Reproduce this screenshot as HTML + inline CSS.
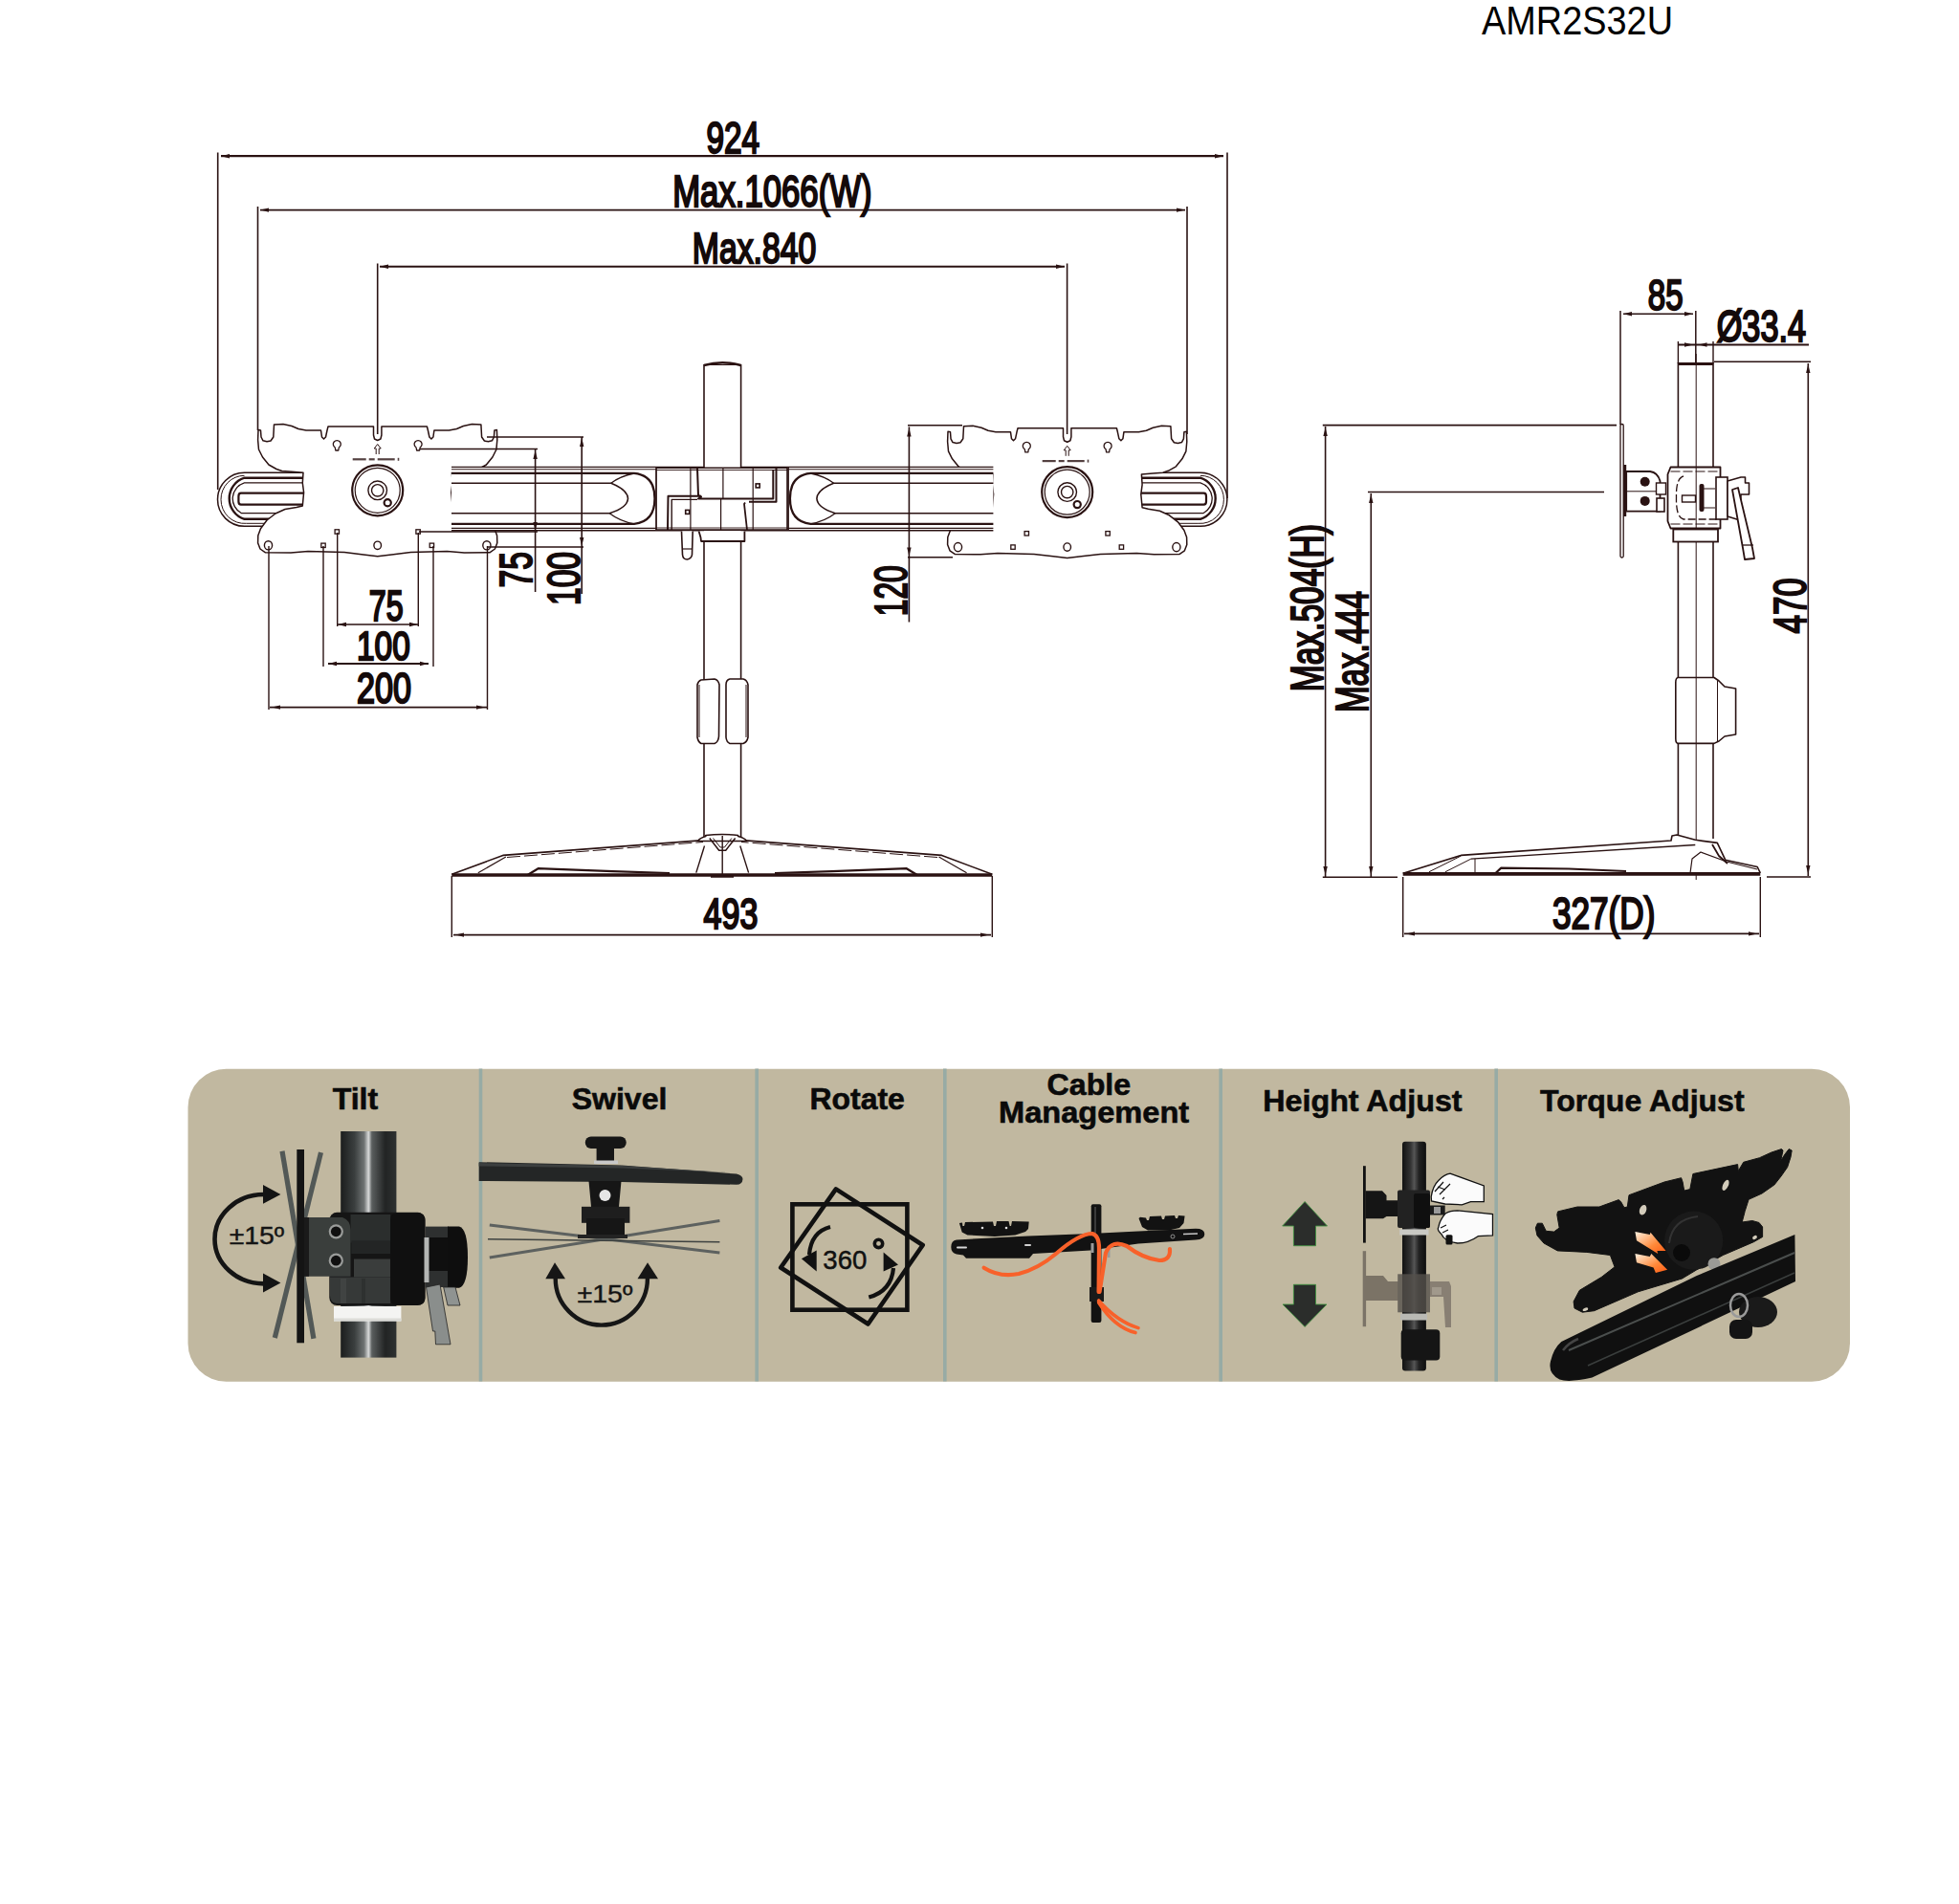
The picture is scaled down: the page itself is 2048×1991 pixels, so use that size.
<!DOCTYPE html>
<html><head><meta charset="utf-8"><title>AMR2S32U</title>
<style>html,body{margin:0;padding:0;background:#fff;overflow:hidden} svg{display:block}</style></head>
<body><svg width="2048" height="1991" viewBox="0 0 2048 1991">
<rect x="0" y="0" width="2048" height="1991" fill="#fff"/>
<defs>
<linearGradient id="gpole" x1="0" x2="1" y1="0" y2="0">
 <stop offset="0" stop-color="#1b1d1d"/><stop offset="0.25" stop-color="#3b3f3f"/><stop offset="0.42" stop-color="#6f7373"/>
 <stop offset="0.5" stop-color="#d8dada"/><stop offset="0.56" stop-color="#5a5e5e"/><stop offset="0.8" stop-color="#222424"/><stop offset="1" stop-color="#2e3131"/>
</linearGradient>
<linearGradient id="gpole2" x1="0" x2="1" y1="0" y2="0">
 <stop offset="0" stop-color="#111"/><stop offset="0.35" stop-color="#333"/><stop offset="0.5" stop-color="#555"/><stop offset="0.7" stop-color="#222"/><stop offset="1" stop-color="#0e0e0e"/>
</linearGradient>
<linearGradient id="gclamp" x1="0" x2="1" y1="0" y2="0">
 <stop offset="0" stop-color="#222"/><stop offset="0.5" stop-color="#2c2c2c"/><stop offset="1" stop-color="#101010"/>
</linearGradient>
<linearGradient id="gorange" x1="0" x2="1" y1="0" y2="1">
 <stop offset="0" stop-color="#fff1e0"/><stop offset="0.6" stop-color="#ff8a3a"/><stop offset="1" stop-color="#ff5a14"/>
</linearGradient>
</defs>
<text x="1549.0" y="36.3" font-family="Liberation Sans" font-size="42" font-weight="normal" fill="#000" textLength="200.0" lengthAdjust="spacingAndGlyphs" >AMR2S32U</text>
<g>
<path d="M318,494.29999999999995 L255.5,494.29999999999995 A28,28 0 0 0 255.5,550.3 L318,550.3" fill="#fff" stroke="#2a1212" stroke-width="1.5" stroke-linejoin="round" />
<path d="M318,499.69999999999993 L255.5,499.69999999999993 A22.6,22.6 0 0 0 255.5,542.8 L318,542.8" fill="none" stroke="#2a1212" stroke-width="2.4" stroke-linejoin="round" />
<path d="M231.0,522.3 A24.5,24.8 0 0 1 255.5,497.29999999999995" fill="none" stroke="#2a1212" stroke-width="1.0" stroke-linejoin="round" />
<path d="M231.0,522.3 A24.5,25 0 0 0 257.5,547.3 L318,547.3" fill="none" stroke="#2a1212" stroke-width="1.0" stroke-linejoin="round" />
<path d="M318,504.79999999999995 L255.5,504.79999999999995 A18,17.5 0 0 0 252.5,536.6999999999999 L318,536.6999999999999" fill="none" stroke="#2a1212" stroke-width="1.3" stroke-linejoin="round" />
<path d="M318,515.7 L252,515.7 Q249.4,515.7 249.4,519 L249.4,524.5 Q249.4,527.6 252,527.6 L318,527.6" fill="none" stroke="#2a1212" stroke-width="2.2" stroke-linejoin="round" />
</g>
<g transform="translate(1510.4,0) scale(-1,1)">
<path d="M318,494.29999999999995 L255.5,494.29999999999995 A28,28 0 0 0 255.5,550.3 L318,550.3" fill="#fff" stroke="#2a1212" stroke-width="1.5" stroke-linejoin="round" />
<path d="M318,499.69999999999993 L255.5,499.69999999999993 A22.6,22.6 0 0 0 255.5,542.8 L318,542.8" fill="none" stroke="#2a1212" stroke-width="2.4" stroke-linejoin="round" />
<path d="M231.0,522.3 A24.5,24.8 0 0 1 255.5,497.29999999999995" fill="none" stroke="#2a1212" stroke-width="1.0" stroke-linejoin="round" />
<path d="M231.0,522.3 A24.5,25 0 0 0 257.5,547.3 L318,547.3" fill="none" stroke="#2a1212" stroke-width="1.0" stroke-linejoin="round" />
<path d="M318,504.79999999999995 L255.5,504.79999999999995 A18,17.5 0 0 0 252.5,536.6999999999999 L318,536.6999999999999" fill="none" stroke="#2a1212" stroke-width="1.3" stroke-linejoin="round" />
<path d="M318,515.7 L252,515.7 Q249.4,515.7 249.4,519 L249.4,524.5 Q249.4,527.6 252,527.6 L318,527.6" fill="none" stroke="#2a1212" stroke-width="2.2" stroke-linejoin="round" />
</g>
<g>
<path d="M394.7,581.8 L380.0,580.0 L360.0,577.6 L322.0,576.6 L304.0,578.0 L277.5,577.8 L272.0,574.0 L269.6,567.8 L269.8,560.0 L272.5,552.7 L279.0,544.0 L288.0,537.0 L298.0,532.5 L310.0,530.5 L316.3,529.0 L317.6,515.0 L316.3,505.0 L317.0,494.3 L305.0,493.2 L294.7,492.5 L289.0,490.5 L281.0,486.0 L274.5,478.0 L270.5,470.0 L269.6,460.0 L270.0,449.5 L272.5,450.0 L273.0,457.0 L275.0,460.8 L279.0,461.8 L283.0,461.0 L285.8,457.0 L286.5,444.0 L296.0,443.5 L305.0,445.5 L312.0,448.5 L320.0,450.0 L335.5,450.0 L336.5,457.0 L338.5,459.0 L340.5,457.0 L342.0,450.0 L343.0,446.0 L390.5,446.0 L390.5,455.0 L391.5,459.0 L394.7,460.5 L397.9,459.0 L398.9,455.0 L398.9,446.0 L446.4,446.0 L447.4,450.0 L448.9,457.0 L450.9,459.0 L452.9,457.0 L453.9,450.0 L469.4,450.0 L477.4,448.5 L484.4,445.5 L493.4,443.5 L502.9,444.0 L503.6,457.0 L506.4,461.0 L510.4,461.8 L514.4,460.8 L516.4,457.0 L516.9,450.0 L519.4,449.5 L519.8,460.0 L518.9,470.0 L514.9,478.0 L508.4,486.0 L500.4,490.5 L494.7,492.5 L484.4,493.2 L472.4,494.3 L473.1,505.0 L471.8,515.0 L473.1,529.0 L479.4,530.5 L491.4,532.5 L501.4,537.0 L510.4,544.0 L516.9,552.7 L519.6,560.0 L519.8,567.8 L517.4,574.0 L511.9,577.8 L485.4,578.0 L467.4,576.6 L429.4,577.6 L409.4,580.0 L394.7,581.8 Z" fill="#fff" stroke="#2a1212" stroke-width="1.5" stroke-linejoin="round" />
<circle cx="394.7" cy="512.8" r="26.5" fill="none" stroke="#2a1212" stroke-width="2.2"/>
<circle cx="394.7" cy="512.8" r="23.5" fill="none" stroke="#2a1212" stroke-width="1.2"/>
<circle cx="394.7" cy="512.8" r="9.8" fill="none" stroke="#2a1212" stroke-width="1.4"/>
<circle cx="394.7" cy="512.8" r="6.2" fill="none" stroke="#2a1212" stroke-width="1.4"/>
<path d="M393.2,475.0 L393.2,469.0 L391.2,469.0 L394.7,464.5 L398.2,469.0 L396.2,469.0 L396.2,475.0" fill="none" stroke="#2a1212" stroke-width="1.0" stroke-linejoin="round" />
<path d="M350.8,471 L350.3,468 A4,4 0 1 1 354.3,468 L353.8,471 Z" fill="none" stroke="#2a1212" stroke-width="1.3" stroke-linejoin="round" />
<path d="M435.6,471 L435.1,468 A4,4 0 1 1 439.1,468 L438.6,471 Z" fill="none" stroke="#2a1212" stroke-width="1.3" stroke-linejoin="round" />
<ellipse cx="280.5" cy="570.3" rx="4.1" ry="4.6" fill="none" stroke="#2a1212" stroke-width="1.4"/>
<ellipse cx="508.9" cy="570.3" rx="4.1" ry="4.6" fill="none" stroke="#2a1212" stroke-width="1.4"/>
<ellipse cx="394.7" cy="570.3" rx="3.8" ry="4.2" fill="none" stroke="#2a1212" stroke-width="1.4"/>
<rect x="335.8" y="568.0999999999999" width="4.4" height="4.4" fill="none" stroke="#2a1212" stroke-width="1.3"/>
<rect x="449.2" y="568.0999999999999" width="4.4" height="4.4" fill="none" stroke="#2a1212" stroke-width="1.3"/>
<rect x="350.1" y="553.8" width="4.4" height="4.4" fill="none" stroke="#2a1212" stroke-width="1.3"/>
<rect x="434.90000000000003" y="553.8" width="4.4" height="4.4" fill="none" stroke="#2a1212" stroke-width="1.3"/>
</g>
<circle cx="405.2" cy="525.8" r="3.6" fill="none" stroke="#2a1212" stroke-width="2.2"/>
<g opacity="0.8"><rect x="368.7" y="479.2" width="14" height="2.2" fill="#2a1212"/>
<rect x="385.7" y="479.2" width="6" height="2.2" fill="#2a1212"/>
<rect x="394.7" y="479.2" width="18" height="2.2" fill="#2a1212"/>
<rect x="415.7" y="478.8" width="1.6" height="3" fill="#2a1212"/></g>
<g transform="translate(1510.4,1.8) scale(-1,1)">
<path d="M394.7,581.8 L380.0,580.0 L360.0,577.6 L322.0,576.6 L304.0,578.0 L277.5,577.8 L272.0,574.0 L269.6,567.8 L269.8,560.0 L272.5,552.7 L279.0,544.0 L288.0,537.0 L298.0,532.5 L310.0,530.5 L316.3,529.0 L317.6,515.0 L316.3,505.0 L317.0,494.3 L305.0,493.2 L294.7,492.5 L289.0,490.5 L281.0,486.0 L274.5,478.0 L270.5,470.0 L269.6,460.0 L270.0,449.5 L272.5,450.0 L273.0,457.0 L275.0,460.8 L279.0,461.8 L283.0,461.0 L285.8,457.0 L286.5,444.0 L296.0,443.5 L305.0,445.5 L312.0,448.5 L320.0,450.0 L335.5,450.0 L336.5,457.0 L338.5,459.0 L340.5,457.0 L342.0,450.0 L343.0,446.0 L390.5,446.0 L390.5,455.0 L391.5,459.0 L394.7,460.5 L397.9,459.0 L398.9,455.0 L398.9,446.0 L446.4,446.0 L447.4,450.0 L448.9,457.0 L450.9,459.0 L452.9,457.0 L453.9,450.0 L469.4,450.0 L477.4,448.5 L484.4,445.5 L493.4,443.5 L502.9,444.0 L503.6,457.0 L506.4,461.0 L510.4,461.8 L514.4,460.8 L516.4,457.0 L516.9,450.0 L519.4,449.5 L519.8,460.0 L518.9,470.0 L514.9,478.0 L508.4,486.0 L500.4,490.5 L494.7,492.5 L484.4,493.2 L472.4,494.3 L473.1,505.0 L471.8,515.0 L473.1,529.0 L479.4,530.5 L491.4,532.5 L501.4,537.0 L510.4,544.0 L516.9,552.7 L519.6,560.0 L519.8,567.8 L517.4,574.0 L511.9,577.8 L485.4,578.0 L467.4,576.6 L429.4,577.6 L409.4,580.0 L394.7,581.8 Z" fill="#fff" stroke="#2a1212" stroke-width="1.5" stroke-linejoin="round" />
<circle cx="394.7" cy="512.8" r="26.5" fill="none" stroke="#2a1212" stroke-width="2.2"/>
<circle cx="394.7" cy="512.8" r="23.5" fill="none" stroke="#2a1212" stroke-width="1.2"/>
<circle cx="394.7" cy="512.8" r="9.8" fill="none" stroke="#2a1212" stroke-width="1.4"/>
<circle cx="394.7" cy="512.8" r="6.2" fill="none" stroke="#2a1212" stroke-width="1.4"/>
<path d="M393.2,475.0 L393.2,469.0 L391.2,469.0 L394.7,464.5 L398.2,469.0 L396.2,469.0 L396.2,475.0" fill="none" stroke="#2a1212" stroke-width="1.0" stroke-linejoin="round" />
<path d="M350.8,471 L350.3,468 A4,4 0 1 1 354.3,468 L353.8,471 Z" fill="none" stroke="#2a1212" stroke-width="1.3" stroke-linejoin="round" />
<path d="M435.6,471 L435.1,468 A4,4 0 1 1 439.1,468 L438.6,471 Z" fill="none" stroke="#2a1212" stroke-width="1.3" stroke-linejoin="round" />
<ellipse cx="280.5" cy="570.3" rx="4.1" ry="4.6" fill="none" stroke="#2a1212" stroke-width="1.4"/>
<ellipse cx="508.9" cy="570.3" rx="4.1" ry="4.6" fill="none" stroke="#2a1212" stroke-width="1.4"/>
<ellipse cx="394.7" cy="570.3" rx="3.8" ry="4.2" fill="none" stroke="#2a1212" stroke-width="1.4"/>
<rect x="335.8" y="568.0999999999999" width="4.4" height="4.4" fill="none" stroke="#2a1212" stroke-width="1.3"/>
<rect x="449.2" y="568.0999999999999" width="4.4" height="4.4" fill="none" stroke="#2a1212" stroke-width="1.3"/>
<rect x="350.1" y="553.8" width="4.4" height="4.4" fill="none" stroke="#2a1212" stroke-width="1.3"/>
<rect x="434.90000000000003" y="553.8" width="4.4" height="4.4" fill="none" stroke="#2a1212" stroke-width="1.3"/>
</g>
<circle cx="1126.2" cy="527.6" r="3.6" fill="none" stroke="#2a1212" stroke-width="2.2"/>
<g opacity="0.8"><rect x="1089.7" y="481.0" width="14" height="2.2" fill="#2a1212"/>
<rect x="1106.7" y="481.0" width="6" height="2.2" fill="#2a1212"/>
<rect x="1115.7" y="481.0" width="18" height="2.2" fill="#2a1212"/>
<rect x="1136.7" y="480.6" width="1.6" height="3" fill="#2a1212"/></g>
<g>
<rect x="472" y="488.4" width="214" height="66.3" fill="#fff" stroke="none"/>
<line x1="472.0" y1="488.4" x2="736.0" y2="488.4" stroke="#2a1212" stroke-width="1.3"/>
<line x1="472.0" y1="490.7" x2="736.0" y2="490.7" stroke="#2a1212" stroke-width="1.1"/>
<line x1="472.0" y1="552.4" x2="736.0" y2="552.4" stroke="#2a1212" stroke-width="1.1"/>
<line x1="472.0" y1="554.7" x2="736.0" y2="554.7" stroke="#2a1212" stroke-width="1.5"/>
<line x1="686.3" y1="488.4" x2="686.3" y2="554.7" stroke="#2a1212" stroke-width="1.6"/>
<path d="M472,494.9 L663,494.9 Q684.5,497 684.5,521.3 Q684.5,545.5 663,547.9 L472,547.9" fill="none" stroke="#2a1212" stroke-width="2.3" stroke-linejoin="round" />
<path d="M472,505.3 L638.8,505.3 Q656,512 656.5,521.3 Q656,531 637.2,536.7 L472,536.7" fill="none" stroke="#2a1212" stroke-width="1.6" stroke-linejoin="round" />
<path d="M638.8,505.3 Q648,498 663,495" fill="none" stroke="#2a1212" stroke-width="1.3" stroke-linejoin="round" />
<path d="M637.2,536.7 Q648,545 663,547.8" fill="none" stroke="#2a1212" stroke-width="1.3" stroke-linejoin="round" />
</g>
<g transform="translate(1510.4,0) scale(-1,1)">
<rect x="472" y="488.4" width="214" height="66.3" fill="#fff" stroke="none"/>
<line x1="472.0" y1="488.4" x2="736.0" y2="488.4" stroke="#2a1212" stroke-width="1.3"/>
<line x1="472.0" y1="490.7" x2="736.0" y2="490.7" stroke="#2a1212" stroke-width="1.1"/>
<line x1="472.0" y1="552.4" x2="736.0" y2="552.4" stroke="#2a1212" stroke-width="1.1"/>
<line x1="472.0" y1="554.7" x2="736.0" y2="554.7" stroke="#2a1212" stroke-width="1.5"/>
<line x1="686.3" y1="488.4" x2="686.3" y2="554.7" stroke="#2a1212" stroke-width="1.6"/>
<path d="M472,494.9 L663,494.9 Q684.5,497 684.5,521.3 Q684.5,545.5 663,547.9 L472,547.9" fill="none" stroke="#2a1212" stroke-width="2.3" stroke-linejoin="round" />
<path d="M472,505.3 L638.8,505.3 Q656,512 656.5,521.3 Q656,531 637.2,536.7 L472,536.7" fill="none" stroke="#2a1212" stroke-width="1.6" stroke-linejoin="round" />
<path d="M638.8,505.3 Q648,498 663,495" fill="none" stroke="#2a1212" stroke-width="1.3" stroke-linejoin="round" />
<path d="M637.2,536.7 Q648,545 663,547.8" fill="none" stroke="#2a1212" stroke-width="1.3" stroke-linejoin="round" />
</g>
<rect x="736" y="379.5" width="38.6" height="110" fill="#fff" stroke="none"/>
<line x1="736.0" y1="381.0" x2="736.0" y2="489.3" stroke="#2a1212" stroke-width="1.6"/>
<line x1="774.6" y1="381.0" x2="774.6" y2="489.3" stroke="#2a1212" stroke-width="1.6"/>
<path d="M736,382 Q755.3,376.5 774.6,382" fill="none" stroke="#2a1212" stroke-width="2.4" stroke-linejoin="round" />
<line x1="736.0" y1="381.5" x2="774.6" y2="381.5" stroke="#2a1212" stroke-width="1.2"/>
<line x1="736.0" y1="566.0" x2="736.0" y2="876.0" stroke="#2a1212" stroke-width="1.6"/>
<line x1="774.6" y1="566.0" x2="774.6" y2="876.0" stroke="#2a1212" stroke-width="1.6"/>
<path d="M733,711 Q730,712 729,716 L729,771 Q730,776 733,777.5 L747,777.5 Q751,776 751.5,770 L752,716 Q751,711 747,710 Z" fill="#fff" stroke="#2a1212" stroke-width="1.6" stroke-linejoin="round" />
<path d="M763,710 Q759,711 759,716 L759,771 Q759.5,776 763,777.5 L777,777.5 Q781,776 782,771 L782,716 Q781,711 777,710 Z" fill="#fff" stroke="#2a1212" stroke-width="1.6" stroke-linejoin="round" />
<line x1="731.0" y1="716.0" x2="731.0" y2="771.0" stroke="#2a1212" stroke-width="1.0"/>
<line x1="780.0" y1="716.0" x2="780.0" y2="771.0" stroke="#2a1212" stroke-width="1.0"/>
<rect x="686" y="489.3" width="137" height="64.8" fill="#fff"/>
<line x1="686.0" y1="489.3" x2="823.0" y2="489.3" stroke="#2a1212" stroke-width="1.6"/>
<line x1="686.0" y1="554.1" x2="823.0" y2="554.1" stroke="#2a1212" stroke-width="1.8"/>
<line x1="686.0" y1="491.5" x2="823.0" y2="491.5" stroke="#2a1212" stroke-width="0.9"/>
<line x1="686.0" y1="552.0" x2="823.0" y2="552.0" stroke="#2a1212" stroke-width="0.9"/>
<line x1="686.1" y1="489.3" x2="686.1" y2="554.1" stroke="#2a1212" stroke-width="1.6"/>
<line x1="823.0" y1="489.3" x2="823.0" y2="554.1" stroke="#2a1212" stroke-width="1.6"/>
<line x1="721.9" y1="489.3" x2="721.9" y2="554.1" stroke="#2a1212" stroke-width="1.2"/>
<line x1="755.9" y1="489.3" x2="755.9" y2="521.5" stroke="#2a1212" stroke-width="1.2"/>
<line x1="753.6" y1="522.0" x2="753.6" y2="554.1" stroke="#2a1212" stroke-width="1.2"/>
<line x1="787.2" y1="489.3" x2="787.2" y2="554.1" stroke="#2a1212" stroke-width="1.2"/>
<path d="M723.0,489.3 L729.0,489.3 L730.0,518.0 L733.0,519.5 L730.0,521.5 L808.3,521.5 L808.3,491.0" fill="none" stroke="#2a1212" stroke-width="2.0" stroke-linejoin="round" />
<path d="M811.5,489.3 L811.5,524.7 L783.0,524.7" fill="none" stroke="#2a1212" stroke-width="2.0" stroke-linejoin="round" />
<path d="M698.0,554.1 L698.5,518.7 L733.0,518.7" fill="none" stroke="#2a1212" stroke-width="2.0" stroke-linejoin="round" />
<path d="M702.2,554.1 L702.2,522.4 L729.0,522.4" fill="none" stroke="#2a1212" stroke-width="1.4" stroke-linejoin="round" />
<path d="M779.0,525.5 L778.0,527.0 L779.0,536.0 L781.0,554.0" fill="none" stroke="#2a1212" stroke-width="1.8" stroke-linejoin="round" />
<rect x="716.7" y="533.4" width="4" height="4" fill="none" stroke="#2a1212" stroke-width="1.6"/>
<rect x="790.2" y="505.9" width="4" height="4" fill="none" stroke="#2a1212" stroke-width="1.6"/>
<path d="M730.6,555.5 L732.5,562.0 L733.0,566.0 L778.4,566.0 L778.4,555.5" fill="#fff" stroke="#2a1212" stroke-width="1.8" stroke-linejoin="round" />
<path d="M712.5,555.5 L713.5,580 Q714,585 718.3,585 Q723,584 723.5,580 L724.2,555.5" fill="#fff" stroke="#2a1212" stroke-width="1.6" stroke-linejoin="round" />
<line x1="713.0" y1="574.0" x2="724.0" y2="574.0" stroke="#2a1212" stroke-width="1.2"/>
<path d="M472.3,914.3 L525.8,894.4 L735.6,878.6 L736.0,876.0 L774.6,876.0 L775.5,878.6 L984.6,894.4 L1037.3,914.3" fill="#fff" stroke="#2a1212" stroke-width="1.6" stroke-linejoin="round" />
<line x1="472.3" y1="915.0" x2="1037.3" y2="915.0" stroke="#2a1212" stroke-width="3.6"/>
<path d="M499.8,912.8 L528.9,895.9" fill="none" stroke="#2a1212" stroke-width="1.2" stroke-linejoin="round" />
<path d="M1010.6,912.8 L981.5,895.9" fill="none" stroke="#2a1212" stroke-width="1.2" stroke-linejoin="round" />
<path d="M530.0,896.5 L735.0,880.5" fill="none" stroke="#2a1212" stroke-width="1.0" stroke-linejoin="round" stroke-dasharray="14,4"/>
<path d="M980.0,896.5 L775.0,880.5" fill="none" stroke="#2a1212" stroke-width="1.0" stroke-linejoin="round" stroke-dasharray="14,4"/>
<path d="M551.9,914.8 L562.6,908.2 L640.7,911.2 L700.0,913.0" fill="none" stroke="#2a1212" stroke-width="2.2" stroke-linejoin="round" />
<path d="M958.5,914.8 L947.8,908.2 L869.7,911.2 L810.0,913.0" fill="none" stroke="#2a1212" stroke-width="2.2" stroke-linejoin="round" />
<path d="M729.8,879.5 Q731,876.5 737.8,874.5 L737.8,873.5 Q755,871.5 771.6,873.5 L771.6,874.5 Q779,876.5 780.5,879.5 Z" fill="#fff" stroke="#2a1212" stroke-width="1.6" stroke-linejoin="round" />
<path d="M727.8,912.6 L736.5,884.5" fill="none" stroke="#2a1212" stroke-width="1.4" stroke-linejoin="round" />
<path d="M782.6,912.6 L773.8,884.5" fill="none" stroke="#2a1212" stroke-width="1.4" stroke-linejoin="round" />
<path d="M741.8,876.5 L751.7,889.2 L758.7,889.2 L768.6,876.5" fill="none" stroke="#2a1212" stroke-width="1.5" stroke-linejoin="round" />
<path d="M745.5,876.5 L753.0,886.0 L757.4,886.0 L764.9,876.5" fill="none" stroke="#2a1212" stroke-width="1.0" stroke-linejoin="round" />
<line x1="755.2" y1="874.0" x2="755.2" y2="914.0" stroke="#2a1212" stroke-width="1.4"/>
<path d="M743,916.5 L767,916.5" fill="none" stroke="#2a1212" stroke-width="2.5" stroke-linejoin="round" />
<line x1="227.7" y1="159.5" x2="227.7" y2="512.0" stroke="#2a1212" stroke-width="1.6"/>
<line x1="1283.0" y1="159.5" x2="1283.0" y2="521.0" stroke="#2a1212" stroke-width="1.6"/>
<line x1="231.0" y1="163.2" x2="1279.0" y2="163.2" stroke="#2a1212" stroke-width="2.2"/>
<path d="M231.0,163.2 L240.0,161.0 L240.0,165.4 Z" fill="#2a1212"/>
<path d="M1279.0,163.2 L1270.0,161.0 L1270.0,165.4 Z" fill="#2a1212"/>
<text x="738.4" y="160.0" font-family="Liberation Sans" font-size="45.4" font-weight="normal" fill="#140a0a" textLength="55.7" lengthAdjust="spacingAndGlyphs" stroke="#140a0a" stroke-width="2.3">924</text>
<line x1="269.5" y1="216.0" x2="269.5" y2="450.0" stroke="#2a1212" stroke-width="1.6"/>
<line x1="1241.0" y1="216.0" x2="1241.0" y2="454.0" stroke="#2a1212" stroke-width="1.6"/>
<line x1="272.0" y1="219.6" x2="1239.0" y2="219.6" stroke="#2a1212" stroke-width="1.6"/>
<path d="M272.0,219.6 L281.0,217.4 L281.0,221.8 Z" fill="#2a1212"/>
<path d="M1239.0,219.6 L1230.0,217.4 L1230.0,221.8 Z" fill="#2a1212"/>
<text x="703.2" y="216.2" font-family="Liberation Sans" font-size="45.4" font-weight="normal" fill="#140a0a" textLength="208.4" lengthAdjust="spacingAndGlyphs" stroke="#140a0a" stroke-width="2.3">Max.1066(W)</text>
<line x1="394.7" y1="275.5" x2="394.7" y2="454.0" stroke="#2a1212" stroke-width="1.6"/>
<line x1="1115.6" y1="275.5" x2="1115.6" y2="454.0" stroke="#2a1212" stroke-width="1.6"/>
<line x1="397.0" y1="278.7" x2="1113.0" y2="278.7" stroke="#2a1212" stroke-width="2.0"/>
<path d="M397.0,278.7 L406.0,276.5 L406.0,280.9 Z" fill="#2a1212"/>
<path d="M1113.0,278.7 L1104.0,276.5 L1104.0,280.9 Z" fill="#2a1212"/>
<text x="723.8" y="275.2" font-family="Liberation Sans" font-size="44.4" font-weight="normal" fill="#140a0a" textLength="129.4" lengthAdjust="spacingAndGlyphs" stroke="#140a0a" stroke-width="2.3">Max.840</text>
<line x1="352.7" y1="557.0" x2="352.7" y2="655.0" stroke="#2a1212" stroke-width="1.4"/>
<line x1="437.3" y1="557.0" x2="437.3" y2="655.0" stroke="#2a1212" stroke-width="1.4"/>
<line x1="353.0" y1="653.0" x2="437.0" y2="653.0" stroke="#2a1212" stroke-width="1.6"/>
<path d="M353.0,653.0 L362.0,650.8 L362.0,655.2 Z" fill="#2a1212"/>
<path d="M437.0,653.0 L428.0,650.8 L428.0,655.2 Z" fill="#2a1212"/>
<text x="385.8" y="648.7" font-family="Liberation Sans" font-size="43.9" font-weight="normal" fill="#140a0a" textLength="35.8" lengthAdjust="spacingAndGlyphs" stroke="#140a0a" stroke-width="2.3">75</text>
<line x1="338.0" y1="571.0" x2="338.0" y2="697.0" stroke="#2a1212" stroke-width="1.4"/>
<line x1="453.0" y1="571.0" x2="453.0" y2="697.0" stroke="#2a1212" stroke-width="1.4"/>
<line x1="343.0" y1="694.0" x2="448.0" y2="694.0" stroke="#2a1212" stroke-width="1.8"/>
<path d="M343.0,694.0 L352.0,691.8 L352.0,696.2 Z" fill="#2a1212"/>
<path d="M448.0,694.0 L439.0,691.8 L439.0,696.2 Z" fill="#2a1212"/>
<text x="373.0" y="690.2" font-family="Liberation Sans" font-size="42.7" font-weight="normal" fill="#140a0a" textLength="55.7" lengthAdjust="spacingAndGlyphs" stroke="#140a0a" stroke-width="2.3">100</text>
<line x1="281.0" y1="571.0" x2="281.0" y2="742.0" stroke="#2a1212" stroke-width="1.4"/>
<line x1="509.5" y1="571.0" x2="509.5" y2="742.0" stroke="#2a1212" stroke-width="1.4"/>
<line x1="282.0" y1="739.6" x2="509.0" y2="739.6" stroke="#2a1212" stroke-width="1.6"/>
<path d="M284.0,739.6 L293.0,737.4 L293.0,741.8 Z" fill="#2a1212"/>
<path d="M507.0,739.6 L498.0,737.4 L498.0,741.8 Z" fill="#2a1212"/>
<text x="373.0" y="734.5" font-family="Liberation Sans" font-size="44.0" font-weight="normal" fill="#140a0a" textLength="57.0" lengthAdjust="spacingAndGlyphs" stroke="#140a0a" stroke-width="2.3">200</text>
<line x1="439.0" y1="469.5" x2="562.0" y2="469.5" stroke="#2a1212" stroke-width="1.4"/>
<line x1="438.0" y1="556.0" x2="562.0" y2="556.0" stroke="#2a1212" stroke-width="1.4"/>
<line x1="559.6" y1="470.0" x2="559.6" y2="619.0" stroke="#2a1212" stroke-width="1.6"/>
<path d="M559.6,471.0 L557.4,480.0 L561.8,480.0 Z" fill="#2a1212"/>
<path d="M559.6,555.0 L557.4,546.0 L561.8,546.0 Z" fill="#2a1212"/>
<g transform="translate(556.0,614.4) rotate(-90)"><text x="0" y="0" font-family="Liberation Sans" font-size="48.0" font-weight="normal" fill="#140a0a" stroke="#140a0a" stroke-width="2.3" textLength="37.4" lengthAdjust="spacingAndGlyphs">75</text></g>
<line x1="509.0" y1="457.0" x2="610.0" y2="457.0" stroke="#2a1212" stroke-width="1.4"/>
<line x1="509.0" y1="572.0" x2="610.0" y2="572.0" stroke="#2a1212" stroke-width="1.4"/>
<line x1="608.2" y1="457.0" x2="608.2" y2="621.0" stroke="#2a1212" stroke-width="1.6"/>
<path d="M608.2,458.0 L606.0,467.0 L610.4,467.0 Z" fill="#2a1212"/>
<path d="M608.2,571.0 L606.0,562.0 L610.4,562.0 Z" fill="#2a1212"/>
<g transform="translate(606.0,633.0) rotate(-90)"><text x="0" y="0" font-family="Liberation Sans" font-size="48.0" font-weight="normal" fill="#140a0a" stroke="#140a0a" stroke-width="2.3" textLength="56.0" lengthAdjust="spacingAndGlyphs">100</text></g>
<line x1="949.0" y1="444.8" x2="1006.0" y2="444.8" stroke="#2a1212" stroke-width="1.4"/>
<line x1="949.0" y1="582.7" x2="996.0" y2="582.7" stroke="#2a1212" stroke-width="1.4"/>
<line x1="950.4" y1="446.4" x2="950.4" y2="650.5" stroke="#2a1212" stroke-width="1.6"/>
<path d="M950.4,447.5 L948.2,456.5 L952.6,456.5 Z" fill="#2a1212"/>
<path d="M950.4,581.5 L948.2,572.5 L952.6,572.5 Z" fill="#2a1212"/>
<g transform="translate(947.9,644.2) rotate(-90)"><text x="0" y="0" font-family="Liberation Sans" font-size="47.3" font-weight="normal" fill="#140a0a" stroke="#140a0a" stroke-width="2.3" textLength="52.9" lengthAdjust="spacingAndGlyphs">120</text></g>
<line x1="472.3" y1="916.0" x2="472.3" y2="980.0" stroke="#2a1212" stroke-width="1.4"/>
<line x1="1037.3" y1="916.0" x2="1037.3" y2="980.0" stroke="#2a1212" stroke-width="1.4"/>
<line x1="474.0" y1="977.6" x2="1036.0" y2="977.6" stroke="#2a1212" stroke-width="1.8"/>
<path d="M476.0,977.6 L485.0,975.4 L485.0,979.8 Z" fill="#2a1212"/>
<path d="M1034.0,977.6 L1025.0,975.4 L1025.0,979.8 Z" fill="#2a1212"/>
<text x="735.6" y="971.0" font-family="Liberation Sans" font-size="43.7" font-weight="normal" fill="#140a0a" textLength="56.7" lengthAdjust="spacingAndGlyphs" stroke="#140a0a" stroke-width="2.3">493</text>
<line x1="1694.0" y1="325.0" x2="1694.0" y2="444.0" stroke="#2a1212" stroke-width="1.5"/>
<line x1="1772.8" y1="325.0" x2="1772.8" y2="379.0" stroke="#2a1212" stroke-width="1.5"/>
<line x1="1697.0" y1="328.2" x2="1770.0" y2="328.2" stroke="#2a1212" stroke-width="1.6"/>
<path d="M1697.0,328.2 L1706.0,326.0 L1706.0,330.4 Z" fill="#2a1212"/>
<path d="M1770.0,328.2 L1761.0,326.0 L1761.0,330.4 Z" fill="#2a1212"/>
<text x="1722.8" y="323.6" font-family="Liberation Sans" font-size="45.0" font-weight="normal" fill="#140a0a" textLength="36.7" lengthAdjust="spacingAndGlyphs" stroke="#140a0a" stroke-width="2.3">85</text>
<line x1="1754.4" y1="357.0" x2="1754.4" y2="380.0" stroke="#2a1212" stroke-width="1.4"/>
<line x1="1791.0" y1="357.0" x2="1791.0" y2="380.0" stroke="#2a1212" stroke-width="1.4"/>
<line x1="1755.0" y1="360.5" x2="1891.0" y2="360.5" stroke="#2a1212" stroke-width="2.0"/>
<path d="M1770.0,360.5 L1761.0,358.3 L1761.0,362.7 Z" fill="#2a1212"/>
<path d="M1775.5,360.5 L1784.5,358.3 L1784.5,362.7 Z" fill="#2a1212"/>
<text x="1794.7" y="356.5" font-family="Liberation Sans" font-size="45.9" font-weight="normal" fill="#140a0a" textLength="93.3" lengthAdjust="spacingAndGlyphs" stroke="#140a0a" stroke-width="2.3">Ø33.4</text>
<line x1="1792.0" y1="378.3" x2="1893.0" y2="378.3" stroke="#2a1212" stroke-width="1.5"/>
<line x1="1847.0" y1="917.0" x2="1893.0" y2="917.0" stroke="#2a1212" stroke-width="1.5"/>
<line x1="1890.3" y1="380.0" x2="1890.3" y2="916.0" stroke="#2a1212" stroke-width="1.6"/>
<path d="M1890.3,381.0 L1888.1,390.0 L1892.5,390.0 Z" fill="#2a1212"/>
<path d="M1890.3,914.0 L1888.1,905.0 L1892.5,905.0 Z" fill="#2a1212"/>
<g transform="translate(1888.0,662.5) rotate(-90)"><text x="0" y="0" font-family="Liberation Sans" font-size="48.9" font-weight="normal" fill="#140a0a" stroke="#140a0a" stroke-width="2.3" textLength="58.2" lengthAdjust="spacingAndGlyphs">470</text></g>
<line x1="1382.8" y1="444.6" x2="1690.0" y2="444.6" stroke="#2a1212" stroke-width="1.6"/>
<line x1="1382.8" y1="917.2" x2="1461.0" y2="917.2" stroke="#2a1212" stroke-width="1.5"/>
<line x1="1385.6" y1="446.0" x2="1385.6" y2="917.0" stroke="#2a1212" stroke-width="1.6"/>
<path d="M1385.6,447.0 L1383.4,456.0 L1387.8,456.0 Z" fill="#2a1212"/>
<path d="M1385.6,915.0 L1383.4,906.0 L1387.8,906.0 Z" fill="#2a1212"/>
<g transform="translate(1383.2,723.3) rotate(-90)"><text x="0" y="0" font-family="Liberation Sans" font-size="49.0" font-weight="normal" fill="#140a0a" stroke="#140a0a" stroke-width="2.3" textLength="175.2" lengthAdjust="spacingAndGlyphs">Max.504(H)</text></g>
<line x1="1430.0" y1="514.5" x2="1677.0" y2="514.5" stroke="#2a1212" stroke-width="1.5"/>
<line x1="1433.3" y1="516.0" x2="1433.3" y2="917.0" stroke="#2a1212" stroke-width="1.6"/>
<path d="M1433.3,517.0 L1431.1,526.0 L1435.5,526.0 Z" fill="#2a1212"/>
<path d="M1433.3,915.0 L1431.1,906.0 L1435.5,906.0 Z" fill="#2a1212"/>
<g transform="translate(1430.3,745.0) rotate(-90)"><text x="0" y="0" font-family="Liberation Sans" font-size="48.2" font-weight="normal" fill="#140a0a" stroke="#140a0a" stroke-width="2.3" textLength="126.8" lengthAdjust="spacingAndGlyphs">Max.444</text></g>
<line x1="1466.7" y1="917.0" x2="1466.7" y2="980.0" stroke="#2a1212" stroke-width="1.4"/>
<line x1="1840.3" y1="917.0" x2="1840.3" y2="980.0" stroke="#2a1212" stroke-width="1.4"/>
<line x1="1468.0" y1="976.4" x2="1839.0" y2="976.4" stroke="#2a1212" stroke-width="1.6"/>
<path d="M1470.0,976.4 L1479.0,974.2 L1479.0,978.6 Z" fill="#2a1212"/>
<path d="M1837.0,976.4 L1828.0,974.2 L1828.0,978.6 Z" fill="#2a1212"/>
<text x="1623.0" y="971.0" font-family="Liberation Sans" font-size="46.1" font-weight="normal" fill="#140a0a" textLength="107.4" lengthAdjust="spacingAndGlyphs" stroke="#140a0a" stroke-width="2.3">327(D)</text>
<line x1="1754.4" y1="379.0" x2="1754.4" y2="876.0" stroke="#2a1212" stroke-width="1.6"/>
<line x1="1791.0" y1="379.0" x2="1791.0" y2="877.0" stroke="#2a1212" stroke-width="1.6"/>
<line x1="1773.2" y1="370.0" x2="1773.2" y2="920.0" stroke="#2a1212" stroke-width="1.0"/>
<line x1="1754.4" y1="380.5" x2="1791.0" y2="380.5" stroke="#2a1212" stroke-width="3.0"/>
<rect x="1694" y="443.5" width="3.2" height="139.5" rx="1.5" fill="#fff" stroke="#2a1212" stroke-width="1.3"/>
<rect x="1697.2" y="486" width="3" height="54" fill="#2a1212"/>
<path d="M1700.2,493 L1725,493 Q1733,494 1735.5,503 L1735.5,534.6 L1700.2,534.6 Z" fill="#fff" stroke="#2a1212" stroke-width="1.8" stroke-linejoin="round" />
<line x1="1700.2" y1="513.8" x2="1735.5" y2="513.8" stroke="#2a1212" stroke-width="1.0"/>
<circle cx="1719.7" cy="503.7" r="5" fill="#2a1212"/>
<circle cx="1719.7" cy="523.9" r="5" fill="#2a1212"/>
<rect x="1731.5" y="505" width="10" height="12" fill="#fff" stroke="#2a1212" stroke-width="1.4"/>
<rect x="1732" y="521" width="8" height="14" fill="#fff" stroke="#2a1212" stroke-width="1.6"/>
<path d="M1746.5,488.5 L1798.5,488.5 L1798.5,552.5 L1746.5,552.5 L1743.5,545 L1743.5,496 Z" fill="#fff" stroke="#2a1212" stroke-width="1.8" stroke-linejoin="round" />
<path d="M1746.5,493 L1798,493" fill="none" stroke="#2a1212" stroke-width="1.0" stroke-linejoin="round" stroke-dasharray="10,3"/>
<path d="M1746.5,548 L1798,548" fill="none" stroke="#2a1212" stroke-width="1.0" stroke-linejoin="round" stroke-dasharray="10,3"/>
<path d="M1760,498 Q1752,500 1752.5,520 Q1752,541 1760,543 L1795,543" fill="none" stroke="#2a1212" stroke-width="1.3" stroke-linejoin="round" stroke-dasharray="8,3"/>
<line x1="1773.2" y1="488.5" x2="1773.2" y2="552.5" stroke="#2a1212" stroke-width="1.0"/>
<rect x="1758.5" y="518" width="14" height="7" fill="#fff" stroke="#2a1212" stroke-width="1.4"/>
<rect x="1776.5" y="506" width="5" height="29" rx="2" fill="#2a1212"/>
<line x1="1781.0" y1="511.0" x2="1793.0" y2="511.0" stroke="#2a1212" stroke-width="1.0"/>
<line x1="1781.0" y1="531.0" x2="1793.0" y2="531.0" stroke="#2a1212" stroke-width="1.0"/>
<rect x="1749.3" y="553.5" width="46.7" height="13" fill="#fff" stroke="#2a1212" stroke-width="1.8"/>
<rect x="1794" y="499" width="12" height="44" fill="#fff" stroke="#2a1212" stroke-width="1.6"/>
<path d="M1806,503 L1820,499 L1824.5,499 L1824.5,505 L1828.5,505 L1828.5,517 L1820,517 L1819,544 L1806,540 Z" fill="#fff" stroke="#2a1212" stroke-width="1.6" stroke-linejoin="round" />
<path d="M1811,512 L1817,510 L1832,573 L1834,584 L1824,585 L1822,573 Z" fill="#fff" stroke="#2a1212" stroke-width="1.8" stroke-linejoin="round" />
<line x1="1821.0" y1="570.0" x2="1833.0" y2="570.0" stroke="#2a1212" stroke-width="1.3"/>
<path d="M1754,708.5 L1792,708.5 L1797,712 L1803,718 L1814.6,720 L1814.6,768 L1803,770 L1797,775 L1792,777.4 L1754,777.4 Q1751.8,777 1751.8,772 L1751.8,714 Q1751.8,709 1754,708.5 Z" fill="#fff" stroke="#2a1212" stroke-width="1.6" stroke-linejoin="round" />
<line x1="1773.2" y1="708.5" x2="1773.2" y2="777.4" stroke="#2a1212" stroke-width="1.0"/>
<line x1="1795.5" y1="712.0" x2="1795.5" y2="775.0" stroke="#2a1212" stroke-width="1.0"/>
<path d="M1466.7,913.3 L1527.4,894.4 L1747.0,879.0 L1748.0,874.0 L1753.0,873.0 L1772.3,878.3 L1795.3,881.4 L1803.7,899.2 L1837.2,906.5 L1840.3,912.8" fill="#fff" stroke="#2a1212" stroke-width="1.6" stroke-linejoin="round" />
<line x1="1466.7" y1="913.8" x2="1840.3" y2="913.8" stroke="#2a1212" stroke-width="3.8"/>
<path d="M1537.9,898.1 L1772.3,883.5" fill="none" stroke="#2a1212" stroke-width="1.4" stroke-linejoin="round" />
<path d="M1494.0,911.7 L1527.4,895.0" fill="none" stroke="#2a1212" stroke-width="1.0" stroke-linejoin="round" />
<path d="M1511.0,911.7 L1537.9,898.1" fill="none" stroke="#2a1212" stroke-width="1.0" stroke-linejoin="round" />
<line x1="1542.0" y1="898.0" x2="1542.0" y2="912.0" stroke="#2a1212" stroke-width="1.0"/>
<path d="M1563.0,913.5 L1569.3,907.6 L1640.0,908.5 L1700.0,911.0" fill="none" stroke="#2a1212" stroke-width="2.2" stroke-linejoin="round" />
<path d="M1767.0,913.0 L1769.0,898.0 L1778.0,891.0 L1805.0,901.0 L1837.0,909.0" fill="none" stroke="#2a1212" stroke-width="1.2" stroke-linejoin="round" />
<path d="M1790.0,883.0 L1797.0,895.0 L1806.0,903.0" fill="none" stroke="#2a1212" stroke-width="1.8" stroke-linejoin="round" />
<rect x="196.5" y="1117.8" width="1737.5" height="327" rx="40" ry="40" fill="#c1b8a0"/>
<rect x="500.7" y="1117.5" width="3.6" height="327" fill="#97aba5"/>
<rect x="789.4" y="1117.5" width="3.6" height="327" fill="#97aba5"/>
<rect x="986.0" y="1117.5" width="3.6" height="327" fill="#97aba5"/>
<rect x="1274.4" y="1117.5" width="3.6" height="327" fill="#97aba5"/>
<rect x="1562.4" y="1117.5" width="3.6" height="327" fill="#97aba5"/>
<text x="347.7" y="1160.0" font-family="Liberation Sans" font-size="32" font-weight="bold" fill="#0a0a0a" textLength="47.5" lengthAdjust="spacingAndGlyphs" stroke="#0a0a0a" stroke-width="0.6">Tilt</text>
<text x="597.7" y="1160.0" font-family="Liberation Sans" font-size="32" font-weight="bold" fill="#0a0a0a" textLength="99.7" lengthAdjust="spacingAndGlyphs" stroke="#0a0a0a" stroke-width="0.6">Swivel</text>
<text x="846.4" y="1160.2" font-family="Liberation Sans" font-size="32" font-weight="bold" fill="#0a0a0a" textLength="99.5" lengthAdjust="spacingAndGlyphs" stroke="#0a0a0a" stroke-width="0.6">Rotate</text>
<text x="1094.6" y="1144.9" font-family="Liberation Sans" font-size="32" font-weight="bold" fill="#0a0a0a" textLength="87.6" lengthAdjust="spacingAndGlyphs" stroke="#0a0a0a" stroke-width="0.6">Cable</text>
<text x="1044.0" y="1173.5" font-family="Liberation Sans" font-size="32" font-weight="bold" fill="#0a0a0a" textLength="199.2" lengthAdjust="spacingAndGlyphs" stroke="#0a0a0a" stroke-width="0.6">Management</text>
<text x="1320.3" y="1161.7" font-family="Liberation Sans" font-size="32" font-weight="bold" fill="#0a0a0a" textLength="208.3" lengthAdjust="spacingAndGlyphs" stroke="#0a0a0a" stroke-width="0.6">Height Adjust</text>
<text x="1610.0" y="1161.7" font-family="Liberation Sans" font-size="32" font-weight="bold" fill="#0a0a0a" textLength="213.6" lengthAdjust="spacingAndGlyphs" stroke="#0a0a0a" stroke-width="0.6">Torque Adjust</text>
<line x1="295" y1="1203.7" x2="327.9" y2="1399.7" stroke="#525856" stroke-width="5.2"/>
<line x1="335.5" y1="1205.2" x2="287.3" y2="1399" stroke="#525856" stroke-width="5.2"/>
<rect x="310.3" y="1202" width="7.7" height="202.3" fill="#141414"/>
<rect x="356.2" y="1183" width="58.2" height="236.6" fill="url(#gpole)"/>
<rect x="349" y="1366" width="70.4" height="15.5" fill="#f4f4f2"/>
<rect x="349" y="1378.5" width="70.4" height="3" fill="#dcdcd8"/>
<rect x="344.3" y="1267.8" width="100.3" height="97.2" rx="8" fill="#151515"/>
<rect x="366.5" y="1270" width="41.7" height="29.5" fill="#2b2e2d"/>
<rect x="367.3" y="1297.3" width="40.8" height="13.8" fill="#232525"/>
<rect x="370" y="1316.5" width="38" height="19" fill="#3a3d3c"/>
<path d="M345,1335.5 L408.2,1335.5 L408.2,1363 L352,1363 Q345,1362 345,1355 Z" fill="#363938"/>
<rect x="356" y="1337" width="6" height="26" fill="#404342"/><rect x="378" y="1337" width="4" height="26" fill="#2e3130"/>
<rect x="408.2" y="1268.5" width="36" height="96" rx="6" fill="#101010"/>
<path d="M318,1273 L358,1273 Q366.5,1276 366.5,1286 L366.5,1334.7 L318,1334.7 Z" fill="#3a3e3c"/>
<rect x="318" y="1273" width="5" height="61.7" fill="#1a1a1a"/>
<circle cx="351.3" cy="1287.8" r="7.6" fill="#9a9c9a"/><circle cx="351.3" cy="1287.8" r="5.4" fill="#101010"/>
<circle cx="351.3" cy="1318.2" r="7.6" fill="#9a9c9a"/><circle cx="351.3" cy="1318.2" r="5.4" fill="#101010"/>
<rect x="444.6" y="1282.6" width="24.3" height="63.4" fill="#2e3030"/>
<rect x="447.5" y="1294" width="22" height="35" fill="#0f0f0f"/>
<rect x="443.5" y="1294" width="5" height="47" fill="#b4b6b4"/>
<path d="M468,1282.6 L480,1282.6 Q489,1285 489,1314.7 Q489,1344 480,1346.8 L468,1346.8 Z" fill="#0e0e0e"/>
<path d="M445.5,1346 L460,1343 L471,1405.8 L455.5,1405.8 L454.8,1392 L452.5,1392 Z" fill="#8a8e8c" stroke="#222" stroke-width="0.8"/>
<path d="M463.7,1346 L476,1346 L481,1365 L468,1365 Z" fill="#8f9391" stroke="#222" stroke-width="0.8"/>
<path d="M276,1249 A51.5,46.7 0 0 0 276,1342.4" fill="none" stroke="#141414" stroke-width="4.6"/>
<path d="M293.4,1248.9 L275,1239 L275,1258.8 Z" fill="#141414"/>
<path d="M293.4,1341.5 L275,1331.6 L275,1351.5 Z" fill="#141414"/>
<text x="239.8" y="1301.0" font-family="Liberation Sans" font-size="26" font-weight="normal" fill="#141414" textLength="57.4" lengthAdjust="spacingAndGlyphs" stroke="#141414" stroke-width="0.4">±15º</text>
<line x1="511.8" y1="1281" x2="752.4" y2="1309.9" stroke="#5d615f" stroke-width="3"/>
<line x1="511.8" y1="1315" x2="752.4" y2="1276.6" stroke="#5d615f" stroke-width="3"/>
<line x1="510" y1="1295.8" x2="752.4" y2="1298.8" stroke="#3e4240" stroke-width="1.6"/>
<path d="M500.7,1215.2 L650,1218.5 L770,1227.5 Q776.5,1229 776.5,1233 Q776,1238.8 770,1238.8 L650,1236 L500.7,1235 Z" fill="#242626"/>
<path d="M500.7,1216 L650,1219 L760,1226 L650,1221.5 L500.7,1219.5 Z" fill="#3c3f3f"/>
<rect x="611.8" y="1188.5" width="42.9" height="12.5" rx="6" fill="#161616"/>
<rect x="623.6" y="1199" width="18.4" height="15.4" fill="#161616"/>
<rect x="621" y="1213.5" width="25" height="3.5" fill="#c8c8c8"/>
<path d="M615.5,1235 L649.5,1235 L647,1262 L618,1262 Z" fill="#161616"/>
<circle cx="632.5" cy="1250" r="6" fill="#e6e6e6"/>
<rect x="608" y="1261.8" width="50.4" height="17" fill="#1e1e1e"/>
<rect x="613" y="1274" width="40" height="19" fill="#161616"/>
<rect x="604" y="1291" width="52" height="4" fill="#232323"/>
<path d="M580.7,1337 A48.1,48.6 0 0 0 676.9,1337" fill="none" stroke="#161616" stroke-width="4.4"/>
<path d="M580,1320.3 L570.3,1337.3 L591,1337.3 Z" fill="#161616"/>
<path d="M677,1320.3 L666.5,1337.3 L688,1337.3 Z" fill="#161616"/>
<text x="603.6" y="1362.4" font-family="Liberation Sans" font-size="26" font-weight="normal" fill="#141414" textLength="57.8" lengthAdjust="spacingAndGlyphs" stroke="#141414" stroke-width="0.4">±15º</text>
<rect x="828.4" y="1259.3" width="120" height="110.4" fill="none" stroke="#111" stroke-width="4.6"/>
<path d="M873.9,1243.4 L964.7,1302.0 L907.5,1384.5 L816.2,1325.5 Z" fill="none" stroke="#111" stroke-width="4.6" stroke-linejoin="round" />
<path d="M868,1283 Q848,1288 846,1312" fill="none" stroke="#111" stroke-width="4.2"/>
<path d="M837.9,1316.3 L853.7,1307.6 L853.7,1329.5 Z" fill="#111"/>
<path d="M908.3,1356.6 Q932,1350 934,1326" fill="none" stroke="#111" stroke-width="4.2"/>
<path d="M939,1322.4 L923.6,1309.6 L923.6,1329.5 Z" fill="#111"/>
<text x="860.3" y="1326.5" font-family="Liberation Sans" font-size="28" font-weight="normal" fill="#111" textLength="46.0" lengthAdjust="spacingAndGlyphs" stroke="#111" stroke-width="0.5">360</text>
<circle cx="918.5" cy="1300.4" r="4.2" fill="none" stroke="#111" stroke-width="3.6"/>
<rect x="1140.7" y="1259.3" width="10.7" height="123.7" rx="2" fill="#121212"/>
<rect x="1144" y="1262" width="2" height="30" fill="#3a3a3a"/>
<path d="M1002.9,1279 L1006,1278.5 L1006.4,1282 L1008,1282 L1009,1278 L1038,1277.5 L1039,1282 L1041,1282 L1042,1277 L1054.5,1277 L1055.7,1282 L1057,1282 L1058,1277 L1075.7,1277.5 L1075,1285 L1072,1288 L1061.4,1291.4 L1040,1293 L1011.4,1291.4 L1005.7,1288.6 Z" fill="#121212"/>
<circle cx="1027" cy="1284" r="1.3" fill="#ddd"/><circle cx="1052" cy="1284" r="1.3" fill="#ddd"/>
<path d="M1190.5,1274 L1192,1272.8 L1198,1273.5 L1199,1276 L1201,1276 L1202,1272 L1214,1271.5 L1215,1275 L1217,1275 L1218,1271.5 L1228,1271 L1229,1274 L1231,1274 L1232,1271 L1238.6,1271.5 L1237.5,1279 L1233,1284 L1222,1286.5 L1200,1286.5 L1194,1283 Z" fill="#121212"/>
<path d="M1000,1296.4 L1075,1292.5 L1140,1290 L1190,1287.5 L1250,1284.8 Q1259.3,1284.8 1259.3,1290.5 Q1259.3,1296.3 1250,1296.4 L1190,1300.5 L1140,1307.5 L1080,1311 L1076,1315.7 L1010,1315.7 L1007,1312.5 L1000,1311.4 Q994.3,1310 994.3,1304 Q994.3,1297 1000,1296.4 Z" fill="#121212"/>
<path d="M1001,1304.5 L1010,1304.5" stroke="#d8d8d8" stroke-width="2" stroke-linecap="round"/>
<path d="M1072,1302 L1077,1302" stroke="#d0d0d0" stroke-width="2" stroke-linecap="round"/>
<path d="M1237,1290.5 L1252,1290" stroke="#c8c8c8" stroke-width="1.4"/>
<circle cx="1226" cy="1293" r="2" fill="none" stroke="#aaa" stroke-width="0.8"/>
<rect x="1139" y="1346" width="15" height="15" fill="#1a1a1a"/>
<rect x="1140.5" y="1300" width="3" height="10" fill="#9a9a9a"/><rect x="1158" y="1303" width="2.5" height="12" fill="#9a9a9a"/>
<path d="M1028.6,1325.7 Q1045,1336 1065,1332 Q1085,1327 1104,1311 Q1128,1290 1142,1290 Q1149,1292 1149,1305 L1148.6,1351" fill="none" stroke="#f8612a" stroke-width="4.2" stroke-linecap="round"/>
<path d="M1222.9,1306 Q1224,1318 1212,1318 Q1195,1316 1178,1303 Q1162,1296 1156,1310 L1149.5,1351" fill="none" stroke="#f8612a" stroke-width="4.2" stroke-linecap="round"/>
<path d="M1148.6,1360 Q1168,1382 1190,1388.6" fill="none" stroke="#f8612a" stroke-width="3.6" stroke-linecap="round"/>
<path d="M1148.6,1362 Q1165,1388 1187,1393.6" fill="none" stroke="#f8612a" stroke-width="3.6" stroke-linecap="round"/>
<path d="M1364.1,1256.5 L1387.5,1282 L1375.5,1282 L1375.5,1302.7 L1352.4,1302.7 L1352.4,1282 L1340.7,1282 Z" fill="#2b2d2b" stroke="#3f8f3f" stroke-width="0.9"/>
<path d="M1364.1,1387.4 L1387,1364 L1375.5,1364 L1375.5,1343.3 L1352.4,1343.3 L1352.4,1364 L1341,1364 Z" fill="#2b2d2b" stroke="#3f8f3f" stroke-width="0.9"/>
<rect x="1466" y="1193.8" width="24.9" height="239.8" rx="3" fill="url(#gpole2)"/>
<g opacity="0.8">
<rect x="1424.7" y="1308.2" width="3.4" height="79" fill="#6a635a"/>
<path d="M1427,1334 L1446,1334 L1451,1340 L1462,1340 L1462,1360 L1427,1360 Z" fill="#6a6258"/>
<rect x="1461.2" y="1332.3" width="33.8" height="40" fill="#55514c"/>
<path d="M1495,1340 L1515,1340 L1517,1345 L1517,1388 L1511,1388 L1509,1356 L1495,1356 Z" fill="#7a7268"/>
<rect x="1497" y="1346" width="10" height="8" fill="#9a9288"/>
</g>
<rect x="1425" y="1219.2" width="2.8" height="80.4" fill="#111"/>
<path d="M1427.6,1245.2 L1445,1245.2 L1449.5,1250 L1449.5,1255.2 L1464,1255.2 L1464,1272 L1449.5,1272 L1446,1274.3 L1427.6,1274.3 Z" fill="#151515"/>
<rect x="1461" y="1244.5" width="34" height="39.4" rx="2" fill="#222"/>
<rect x="1478" y="1248" width="17" height="36" rx="2" fill="#0f0f0f"/>
<rect x="1495" y="1260.5" width="15.7" height="10" fill="#1a1a1a"/>
<rect x="1499" y="1262" width="7" height="7" fill="#9a9a9a"/>
<rect x="1463.2" y="1285.4" width="30.3" height="6.1" fill="#c9c9c4"/>
<rect x="1464" y="1373.6" width="28" height="6.9" fill="#b9b9b4"/>
<rect x="1464.7" y="1390.2" width="40.6" height="32.4" rx="4" fill="#151515"/>
<path d="M1496.2,1251.3 Q1498,1240 1503.8,1234.5 Q1510,1228 1516.1,1227.2 L1551.3,1239.9 L1551.3,1256.7 L1537.5,1256.7 L1528.3,1259.8 L1510.7,1259 L1496.5,1256 Z" fill="#fbfbfb" stroke="#111" stroke-width="1.3"/>
<path d="M1500,1246 L1509,1236 M1505,1249 L1516,1238 M1503,1241 L1511,1244 M1508,1254 L1510,1252" stroke="#111" stroke-width="1.2" fill="none"/>
<path d="M1511,1269 Q1516,1266 1523.7,1265.9 L1560.5,1269.7 L1560.5,1291.9 L1545.2,1292.7 Q1535,1300 1523.7,1300 Q1510,1298 1506.9,1290.4 Q1502,1286 1503.8,1283.5 Q1505,1276 1511,1269 Z" fill="#fbfbfb" stroke="#111" stroke-width="1.3"/>
<path d="M1506,1284 L1512,1281 M1508,1289 L1514,1286" stroke="#111" stroke-width="1.1"/>
<rect x="1511.5" y="1291.2" width="7" height="10.3" rx="1.5" fill="#111"/>
<path d="M1607.4,1279.2 L1612.3,1279.2 L1616.3,1287.3 L1624.5,1288.1 L1630.2,1284.0 L1627.8,1270.2 L1628.6,1266.9 L1649.0,1262.0 L1671.9,1262.0 L1692.3,1254.6 L1694.8,1257.1 L1698.0,1262.8 L1701.3,1262.0 L1703.0,1249.7 L1740.0,1236.0 L1757.6,1231.7 L1759.1,1236.0 L1760.7,1245.1 L1766.8,1243.6 L1769.9,1227.5 L1816.6,1217.6 L1817.3,1224.5 L1822.7,1215.3 L1839.5,1210.7 L1852.0,1205.0 L1862.5,1201.5 L1864.0,1203.0 L1861.7,1213.7 L1866.0,1207.0 L1870.2,1201.5 L1873.2,1203.0 L1872.0,1210.0 L1868.6,1220.6 L1862.0,1230.0 L1854.9,1239.0 L1842.0,1248.0 L1828.1,1254.3 L1824.2,1266.6 L1821.2,1278.0 L1831.9,1276.5 L1839.0,1278.5 L1842.6,1283.0 L1842.6,1293.4 L1833.4,1298.7 L1801.3,1312.5 L1773.8,1327.8 L1758.5,1337.0 L1712.5,1350.8 L1666.6,1370.7 L1654.3,1372.2 L1646.0,1368.0 L1645.1,1361.0 L1651.3,1349.3 L1674.2,1335.5 L1688.0,1324.8 L1683.4,1312.5 L1658.9,1309.4 L1628.3,1307.9 L1614.0,1300.0 L1607.0,1292.0 L1605.3,1284.0 Z" fill="#121212" stroke="#121212" stroke-width="1" stroke-linejoin="round"/>
<ellipse cx="1717.6" cy="1265.2" rx="3.5" ry="5.5" transform="rotate(20 1717.6 1265.2)" fill="#d3ccbb"/>
<ellipse cx="1804" cy="1239.4" rx="2.8" ry="6" transform="rotate(25 1804 1239.4)" fill="#d3ccbb"/>
<ellipse cx="1834.5" cy="1294" rx="2.6" ry="1.8" transform="rotate(-30 1834.5 1294)" fill="#d3ccbb"/>
<ellipse cx="1657.4" cy="1369.2" rx="3" ry="1.6" transform="rotate(-20 1657.4 1369.2)" fill="#d3ccbb"/>
<circle cx="1770.7" cy="1297.2" r="30.6" fill="#1a1a1a"/>
<path d="M1745,1300 Q1748,1275 1775,1272" stroke="#333" stroke-width="2" fill="none"/>
<circle cx="1758" cy="1310" r="9" fill="#0a0a0a"/>
<circle cx="1792" cy="1321.7" r="6.5" fill="#9a9a96"/>
<path d="M1876.4,1291.1 L1877,1340 L1664.4,1440.6 Q1640,1446 1630.4,1442.5 Q1618,1436 1621,1423.6 Q1624,1410 1632.3,1402.9 L1773.8,1334 Z" fill="#101010"/>
<path d="M1640,1412 L1876,1310" stroke="#4a4e4d" stroke-width="2"/>
<path d="M1660,1428 L1876,1331" stroke="#3a3e3d" stroke-width="1.6"/>
<path d="M1634,1412 Q1640,1404 1650,1400" stroke="#444" stroke-width="2.5" fill="none"/>
<ellipse cx="1838" cy="1372" rx="20" ry="16" fill="#1a1a1a"/>
<ellipse cx="1818" cy="1365" rx="9" ry="12" fill="none" stroke="#9a9a9a" stroke-width="2.5"/>
<rect x="1808" y="1380" width="24" height="20" rx="7" fill="#141414"/>
<path d="M1709.4,1288 L1724.8,1291.1 L1725.5,1288.8 L1741.6,1307.9 L1732.4,1307.9 L1733.2,1311 L1711,1297.2 Z" fill="url(#gorange)"/>
<path d="M1709.4,1311 L1724.8,1314 L1726.3,1311 L1743.1,1327.8 L1730.9,1330.9 L1728.6,1325.5 L1711,1320.2 Z" fill="url(#gorange)"/>
</svg></body></html>
